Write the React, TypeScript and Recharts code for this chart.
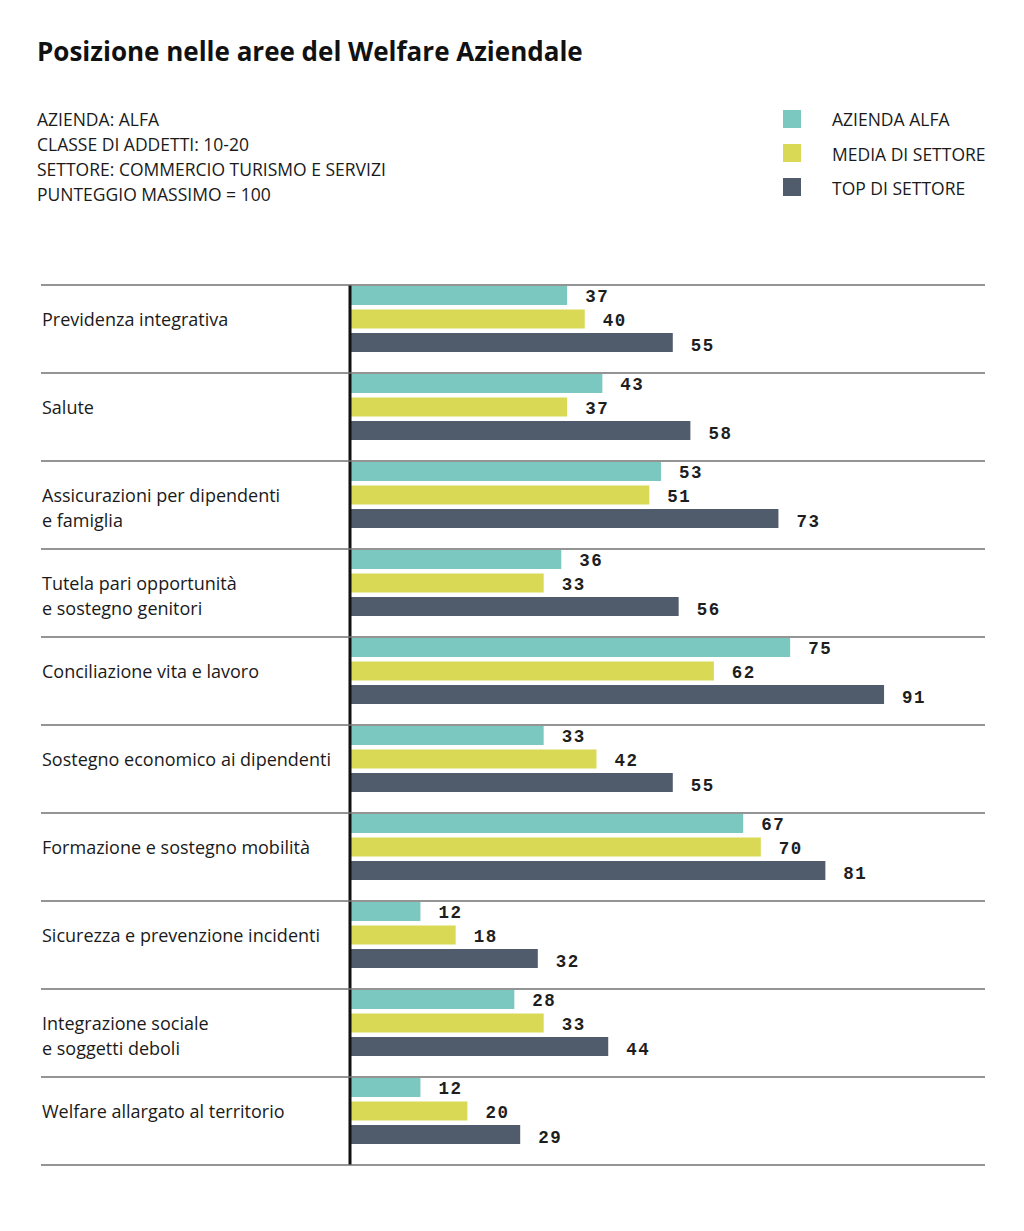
import React from "react";
import { BarChart, Bar, XAxis, YAxis, LabelList } from "recharts";

const categories = [
  "Previdenza integrativa",
  "Salute",
  "Assicurazioni per dipendenti\ne famiglia",
  "Tutela pari opportunità\ne sostegno genitori",
  "Conciliazione vita e lavoro",
  "Sostegno economico ai dipendenti",
  "Formazione e sostegno mobilità",
  "Sicurezza e prevenzione incidenti",
  "Integrazione sociale\ne soggetti deboli",
  "Welfare allargato al territorio",
];
const aziendaAlfa = [37, 43, 53, 36, 75, 33, 67, 12, 28, 12];
const mediaSettore = [40, 37, 51, 33, 62, 42, 70, 18, 33, 20];
const topSettore = [55, 58, 73, 56, 91, 55, 81, 32, 44, 29];

const seriesNames = ["AZIENDA ALFA", "MEDIA DI SETTORE", "TOP DI SETTORE"];
const subtitleLines = [
  "AZIENDA: ALFA",
  "CLASSE DI ADDETTI: 10-20",
  "SETTORE: COMMERCIO TURISMO E SERVIZI",
  "PUNTEGGIO MASSIMO = 100",
];
const title = "Posizione nelle aree del Welfare Aziendale";

const COLORS = ["#7bc8c0", "#d9d955", "#505c6c"];
const SANS = "'Open Sans', Roboto, sans-serif";
const MONO = "'Liberation Mono', 'DejaVu Sans Mono', monospace";
const SHIFT = 10;

const data = categories.map((c, i) => ({
  category: c,
  alfa: aziendaAlfa[i],
  media: mediaSettore[i],
  top: topSettore[i],
}));

const ShiftedBar = (props: any) => (
  <rect x={props.x} y={props.y - SHIFT} width={Math.max(0, props.width)} height={props.height} fill={props.fill} />
);

const makeLabel = (dy: number) => (props: any) => {
  const { x, y, width, height, value } = props;
  return (
    <text
      x={x + width + 18}
      y={y - SHIFT + height / 2 + dy}
      dominantBaseline="central"
      fontFamily={MONO}
      fontWeight="bold"
      fontSize={17.5}
      letterSpacing={1.5}
      fill="#1e1e1e"
    >
      {value}
    </text>
  );
};

const CategoryTick = (props: any) => {
  const { y, payload, index } = props;
  const lines = String(payload.value).split("\n");
  const cy = y - SHIFT;
  return (
    <g>
      {index === 0 && <line x1={41} x2={985} y1={y - 44} y2={y - 44} stroke="#707070" strokeWidth={1.5} />}
      <line x1={41} x2={985} y1={y + 44} y2={y + 44} stroke="#707070" strokeWidth={1.5} />
      {lines.map((l, i) => (
        <text
          key={i}
          x={42}
          y={cy + i * 25}
          dominantBaseline="central"
          fontFamily={SANS}
          fontSize={18}
          fill="#1a1a1a"
        >
          {l}
        </text>
      ))}
    </g>
  );
};

export default function App() {
  return (
    <div style={{ position: "relative", width: 1024, height: 1231, background: "#fff", overflow: "hidden" }}>
      <style>{`body{margin:0;background:#fff}`}</style>
      <svg width={1024} height={260} style={{ position: "absolute", left: 0, top: 0 }}>
        <text x={37} y={60.5} fontFamily={SANS} fontWeight="bold" fontSize={26} fill="#111">
          {title}
        </text>
        {subtitleLines.map((s, i) => (
          <text key={i} x={37} y={126 + i * 25} fontFamily={SANS} fontSize={17.5} fill="#1a1a1a">
            {s}
          </text>
        ))}
        {seriesNames.map((s, i) => (
          <g key={i}>
            <rect x={783} y={110 + i * 34} width={18} height={18} fill={COLORS[i]} />
            <text x={832} y={126 + i * 34.5} fontFamily={SANS} fontSize={17.5} fill="#1a1a1a">
              {s}
            </text>
          </g>
        ))}
      </svg>
      <div style={{ position: "absolute", left: 0, top: 0 }}>
        <BarChart
          width={1024}
          height={1231}
          data={data}
          layout="vertical"
          margin={{ top: 285, bottom: 66, left: 40, right: 39 }}
          barSize={19}
          barGap={4.5}
          barCategoryGap={0}
        >
          <XAxis type="number" domain={[0, 108.2]} hide />
          <Bar dataKey="alfa" name={seriesNames[0]} fill={COLORS[0]} shape={ShiftedBar} isAnimationActive={false}>
            <LabelList dataKey="alfa" content={makeLabel(1.5)} />
          </Bar>
          <Bar dataKey="media" name={seriesNames[1]} fill={COLORS[1]} shape={ShiftedBar} isAnimationActive={false}>
            <LabelList dataKey="media" content={makeLabel(2)} />
          </Bar>
          <Bar dataKey="top" name={seriesNames[2]} fill={COLORS[2]} shape={ShiftedBar} isAnimationActive={false}>
            <LabelList dataKey="top" content={makeLabel(3.5)} />
          </Bar>
          <YAxis
            type="category"
            dataKey="category"
            width={310}
            axisLine={{ stroke: "#111", strokeWidth: 3 }}
            tickLine={false}
            tick={CategoryTick}
            interval={0}
          />
        </BarChart>
      </div>
    </div>
  );
}
